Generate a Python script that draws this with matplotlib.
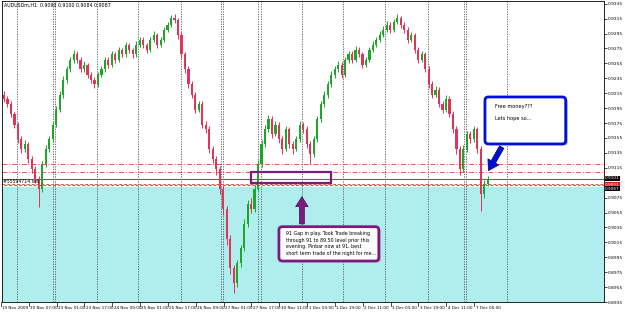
import matplotlib.pyplot as plt
from matplotlib.patches import FancyBboxPatch, Rectangle
from matplotlib.transforms import blended_transform_factory
import numpy as np

# AUDUSD H1, one candle here ~ two hours of the screenshot
first_open = 0.9213
closes = [0.9207, 0.9200, 0.9187, 0.9173, 0.9153, 0.9140, 0.9147, 0.9127, 0.9113, 0.9100,
          0.9087, 0.9120, 0.9140, 0.9153, 0.9173, 0.9193, 0.9213, 0.9233, 0.9247, 0.9260,
          0.9267, 0.9260, 0.9247, 0.9253, 0.9240, 0.9233, 0.9227, 0.9240, 0.9247, 0.9260,
          0.9253, 0.9267, 0.9260, 0.9273, 0.9267, 0.9280, 0.9273, 0.9267, 0.9280, 0.9287,
          0.9280, 0.9273, 0.9287, 0.9293, 0.9280, 0.9287, 0.9300, 0.9307, 0.9316, 0.9313,
          0.9293, 0.9267, 0.9247, 0.9227, 0.9213, 0.9193, 0.9200, 0.9173, 0.9167, 0.9140,
          0.9127, 0.9113, 0.9087, 0.9060, 0.9020, 0.8980, 0.8960, 0.8987, 0.9007, 0.9040,
          0.9067, 0.9060, 0.9087, 0.9120, 0.9147, 0.9167, 0.9180, 0.9160, 0.9173, 0.9153,
          0.9140, 0.9167, 0.9147, 0.9140, 0.9153, 0.9173, 0.9167, 0.9147, 0.9133, 0.9153,
          0.9180, 0.9200, 0.9213, 0.9227, 0.9240, 0.9247, 0.9253, 0.9240, 0.9260, 0.9267,
          0.9260, 0.9273, 0.9267, 0.9253, 0.9260, 0.9273, 0.9280, 0.9287, 0.9293, 0.9300,
          0.9307, 0.9300, 0.9311, 0.9316, 0.9307, 0.9300, 0.9287, 0.9293, 0.9273, 0.9260,
          0.9267, 0.9247, 0.9227, 0.9213, 0.9220, 0.9200, 0.9193, 0.9207, 0.9187, 0.9167,
          0.9140, 0.9113, 0.9140, 0.9160, 0.9153, 0.9167, 0.9140, 0.9080, 0.9093, 0.9100]
highs = [0.9218, 0.9211, 0.9204, 0.9190, 0.9177, 0.9157, 0.9152, 0.9150, 0.9131, 0.9118,
         0.9104, 0.9124, 0.9145, 0.9158, 0.9177, 0.9198, 0.9218, 0.9238, 0.9252, 0.9264,
         0.9273, 0.9271, 0.9263, 0.9258, 0.9256, 0.9244, 0.9237, 0.9244, 0.9251, 0.9264,
         0.9263, 0.9271, 0.9270, 0.9277, 0.9276, 0.9284, 0.9283, 0.9276, 0.9285, 0.9291,
         0.9290, 0.9283, 0.9291, 0.9298, 0.9296, 0.9291, 0.9304, 0.9311, 0.9320, 0.9321,
         0.9316, 0.9297, 0.9270, 0.9251, 0.9231, 0.9217, 0.9205, 0.9204, 0.9178, 0.9171,
         0.9144, 0.9131, 0.9117, 0.9091, 0.9064, 0.9025, 0.8985, 0.8992, 0.9012, 0.9046,
         0.9072, 0.9074, 0.9092, 0.9125, 0.9152, 0.9172, 0.9186, 0.9184, 0.9178, 0.9177,
         0.9157, 0.9171, 0.9170, 0.9151, 0.9157, 0.9178, 0.9177, 0.9171, 0.9151, 0.9157,
         0.9184, 0.9205, 0.9218, 0.9232, 0.9245, 0.9252, 0.9258, 0.9257, 0.9264, 0.9272,
         0.9271, 0.9278, 0.9277, 0.9270, 0.9264, 0.9277, 0.9285, 0.9291, 0.9298, 0.9305,
         0.9312, 0.9311, 0.9315, 0.9321, 0.9319, 0.9311, 0.9304, 0.9297, 0.9296, 0.9277,
         0.9271, 0.9270, 0.9251, 0.9231, 0.9225, 0.9224, 0.9204, 0.9212, 0.9211, 0.9191,
         0.9171, 0.9144, 0.9145, 0.9165, 0.9164, 0.9171, 0.9170, 0.9144, 0.9098, 0.9104]
lows = [0.9203, 0.9196, 0.9183, 0.9168, 0.9148, 0.9135, 0.9136, 0.9122, 0.9108, 0.9094,
        0.9063, 0.9082, 0.9116, 0.9136, 0.9150, 0.9170, 0.9190, 0.9209, 0.9229, 0.9243,
        0.9255, 0.9256, 0.9243, 0.9244, 0.9236, 0.9229, 0.9222, 0.9224, 0.9237, 0.9244,
        0.9249, 0.9250, 0.9256, 0.9257, 0.9263, 0.9264, 0.9269, 0.9262, 0.9264, 0.9277,
        0.9276, 0.9269, 0.9270, 0.9284, 0.9276, 0.9277, 0.9284, 0.9297, 0.9304, 0.9309,
        0.9288, 0.9262, 0.9242, 0.9222, 0.9208, 0.9188, 0.9190, 0.9168, 0.9162, 0.9135,
        0.9122, 0.9106, 0.9080, 0.9052, 0.9012, 0.8972, 0.8947, 0.8955, 0.8982, 0.9003,
        0.9036, 0.9055, 0.9056, 0.9084, 0.9116, 0.9143, 0.9163, 0.9155, 0.9157, 0.9148,
        0.9134, 0.9137, 0.9142, 0.9133, 0.9137, 0.9150, 0.9162, 0.9142, 0.9120, 0.9129,
        0.9150, 0.9176, 0.9196, 0.9209, 0.9223, 0.9236, 0.9243, 0.9236, 0.9237, 0.9256,
        0.9256, 0.9257, 0.9263, 0.9249, 0.9250, 0.9257, 0.9270, 0.9277, 0.9284, 0.9290,
        0.9297, 0.9296, 0.9297, 0.9308, 0.9303, 0.9296, 0.9283, 0.9284, 0.9269, 0.9256,
        0.9257, 0.9243, 0.9222, 0.9208, 0.9210, 0.9196, 0.9188, 0.9190, 0.9183, 0.9162,
        0.9134, 0.9105, 0.9110, 0.9136, 0.9148, 0.9150, 0.9135, 0.9057, 0.9075, 0.9090]
opens = [first_open] + closes[:-1]

date_labels = ['19 Nov 2009', '20 Nov 07:00', '23 Nov 01:00', '23 Nov 17:00', '24 Nov 09:00',
               '25 Nov 01:00', '25 Nov 17:00', '26 Nov 09:00', '27 Nov 01:00', '27 Nov 17:00',
               '30 Nov 11:00', '1 Dec 03:00', '1 Dec 19:00', '2 Dec 11:00', '3 Dec 03:00',
               '3 Dec 19:00', '4 Dec 11:00', '7 Dec 05:00']
separators = [3.7, 14.1, 14.7, 26.7, 38.5, 50.9, 62.4, 62.9, 73.0, 73.9,
              85.6, 97.4, 109.5, 121.8, 132.2, 132.8, 144.5]
order_price = 0.9093
bid_price = 0.9100
level_lines = [0.9120, 0.9110]
price_ticks = [0.8935, 0.8955, 0.8975, 0.8995, 0.9015, 0.9035, 0.9055, 0.9075,
               0.9115, 0.9135, 0.9155, 0.9175, 0.9195, 0.9215, 0.9235, 0.9255,
               0.9275, 0.9295, 0.9315, 0.9335]

bull = '#1ea52a'
bear = '#e23358'
purple = '#7d1a80'
blue = '#0010d8'

fig = plt.figure(figsize=(6.25, 3.14), dpi=100)
ax = fig.add_axes([0.0032, 0.0382, 0.9632, 0.9586])
ax.set_xlim(-0.57, 172.4)
ax.set_ylim(0.89373, 0.93387)

# cyan zone below the sell order
ax.axhspan(0.8930, 0.9089, color='#b0eeee', zorder=0)

for s in separators:
    ax.axvline(s, color='#555555', ls=(0, (1.5, 1.5)), lw=0.6, zorder=1)

x = np.arange(len(closes))
o = np.array(opens)
c = np.array(closes)
cols = [bull if cc >= oo else bear for oo, cc in zip(o, c)]
ax.vlines(x, lows, highs, colors=cols, lw=0.7, zorder=3)
ax.bar(x, np.maximum(np.abs(c - o), 0.00008), bottom=np.minimum(o, c),
       width=0.62, color=cols, linewidth=0, zorder=3)

for lv in level_lines:
    ax.axhline(lv, color='#e8505a', ls=(0, (5, 2, 1, 2)), lw=0.7, zorder=2)
ax.axhline(bid_price, color='#666666', lw=0.8, zorder=2)
ax.axhline(order_price, color='#e8505a', ls=(0, (3, 2)), lw=0.7, zorder=2)
ax.axhline(order_price - 0.00005, color='#3a9a2a', ls=(3, (3, 2)), lw=0.7, zorder=2)
ax.text(-0.2, order_price + 0.00005, '#55594714 sell', fontsize=3.3, va='bottom', ha='left', zorder=4)

ax.text(0.004, 0.994, 'AUDUSDm,H1  0.9090 0.9100 0.9084 0.9087', transform=ax.transAxes,
        fontsize=3.4, va='top', ha='left')

# purple annotation
ax.add_patch(Rectangle((71.0, 0.9095), 23.0, 0.0014, fill=False, ec=purple, lw=1.6, zorder=5))
asp = 0.000464
ax.add_patch(FancyBboxPatch((79.6, 0.8988), 28.7, 0.0046, boxstyle='round,pad=0,rounding_size=1.0',
                            mutation_aspect=asp, fc='#bbbbbb', ec='none', zorder=5))
ax.add_patch(FancyBboxPatch((79.0, 0.8990), 28.7, 0.0046, boxstyle='round,pad=0,rounding_size=1.0',
                            mutation_aspect=asp, fc='white', ec=purple, lw=2.0, zorder=6))
ax.text(80.9, 0.9030, '91 Gap in play. Took Trade breaking\nthrough 91 to 89.50 level prior this\n'
        'evening. Pinbar now at 91, best\nshort term trade of the night for me...',
        fontsize=3.4, va='top', ha='left', linespacing=1.4, zorder=7)
ax.annotate('', xy=(85.6, 0.9080), xytext=(85.6, 0.9036),
            arrowprops=dict(arrowstyle='simple,head_length=0.8,head_width=1.0,tail_width=0.4',
                            fc=purple, ec='#4a0a4a', lw=0.5, mutation_scale=9), zorder=6)

# blue annotation
ax.add_patch(FancyBboxPatch((138.8, 0.9145), 23.2, 0.0063, boxstyle='round,pad=0,rounding_size=1.0',
                            mutation_aspect=asp, fc='#bbbbbb', ec='none', zorder=5))
ax.add_patch(FancyBboxPatch((138.2, 0.9147), 23.2, 0.0063, boxstyle='round,pad=0,rounding_size=1.0',
                            mutation_aspect=asp, fc='white', ec=blue, lw=2.0, zorder=6))
ax.text(141.0, 0.9201, 'Free money???\n\nLets hope so...', fontsize=3.6, va='top', ha='left',
        linespacing=1.35, zorder=7)
ax.annotate('', xy=(138.8, 0.9108), xytext=(143.4, 0.9146),
            arrowprops=dict(arrowstyle='simple,head_length=0.8,head_width=1.0,tail_width=0.4',
                            fc=blue, ec='#00006a', lw=0.5, mutation_scale=9), zorder=6)

# right price axis
ax.yaxis.tick_right()
ax.set_yticks(price_ticks)
ax.set_yticklabels(['%.4f' % p for p in price_ticks])
ax.tick_params(axis='y', labelsize=3.2, length=1.8, width=0.5, pad=0.8)
ax.set_xticks([])
for sp in ax.spines.values():
    sp.set_linewidth(0.6)

for val, fc in [(bid_price + 0.0001, 'black'), (order_price - 0.00005, '#ee1111'), (0.9087, 'black')]:
    ax.text(1.002, val, '%.4f' % val, transform=blended_transform_factory(ax.transAxes, ax.transData),
            fontsize=3.1, color='white', va='center', ha='left',
            bbox=dict(boxstyle='square,pad=0.12', fc=fc, ec='none'), clip_on=False)

# time axis labels
tb = blended_transform_factory(ax.transData, ax.transAxes)
for k, lab in enumerate(date_labels):
    xk = 8 * k - 0.9
    ax.plot([xk, xk], [0, -0.012], color='black', lw=0.5, transform=tb, clip_on=False)
    ax.text(xk + 0.4, -0.012, lab, fontsize=3.0, va='top', ha='left', transform=tb)

fig.savefig('out.png', dpi=100)
